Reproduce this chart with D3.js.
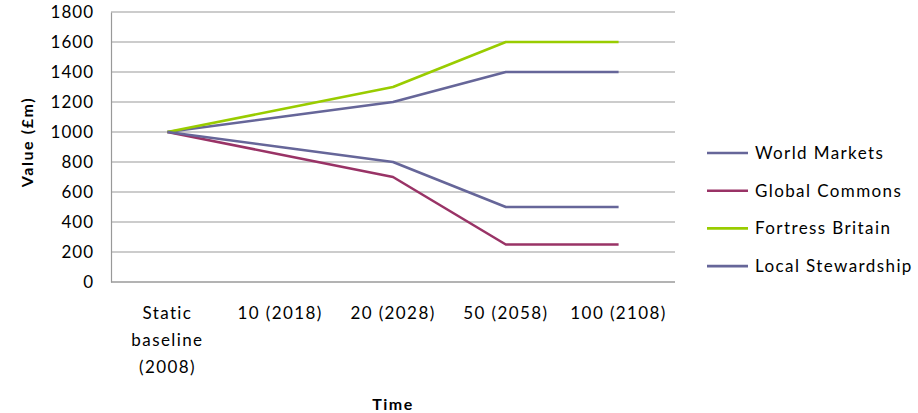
<!DOCTYPE html>
<html>
<head>
<meta charset="utf-8">
<script src="https://cdn.jsdelivr.net/npm/d3@7"></script>
<style>
  html, body { margin: 0; padding: 0; background: #fff; }
  svg text { font-family: Lato, "Open Sans", sans-serif; fill: #000; }
</style>
</head>
<body>
<svg id="chart" width="918" height="413"></svg>
<script>
// Time points along the category axis
const categories = [
  ["Static", "baseline", "(2008)"],
  ["10 (2018)"],
  ["20 (2028)"],
  ["50 (2058)"],
  ["100 (2108)"]
];
const categoryKeys = ["base", "y2018", "y2028", "y2058", "y2108"];

// Scenario values, £m
const seriesNames = ["World Markets", "Global Commons", "Fortress Britain", "Local Stewardship"];
const worldMarkets     = [1000, 1100, 1200, 1400, 1400];
const globalCommons    = [1000, 850, 700, 250, 250];
const fortressBritain  = [1000, 1150, 1300, 1600, 1600];
const localStewardship = [1000, 900, 800, 500, 500];
const seriesColors = ["#666699", "#993366", "#99CC00", "#666699"];

const yTicks = [0, 200, 400, 600, 800, 1000, 1200, 1400, 1600, 1800];

const seriesValues = [worldMarkets, globalCommons, fortressBritain, localStewardship];

const svg = d3.select("#chart");
const plot = { left: 111, right: 675, top: 12, bottom: 282 };
const labelSize = 17, labelSpacing = 1.4;

const x = d3.scalePoint()
  .domain(categoryKeys)
  .range([plot.left, plot.right])
  .padding(0.5);

const y = d3.scaleLinear()
  .domain([0, 1800])
  .range([plot.bottom, plot.top]);

// Horizontal gridlines
svg.append("g")
  .selectAll("line")
  .data(yTicks)
  .join("line")
  .attr("x1", plot.left)
  .attr("x2", plot.right)
  .attr("y1", d => y(d))
  .attr("y2", d => y(d))
  .attr("stroke", "#999")
  .attr("stroke-width", 1.2);

// Value axis
const yAxis = svg.append("g")
  .attr("transform", `translate(${plot.left},0)`)
  .call(d3.axisLeft(y).tickValues(yTicks).tickFormat(d3.format("d")).tickSize(0).tickPadding(17));
yAxis.select(".domain").attr("stroke", "#999").attr("stroke-width", 1.2);
yAxis.selectAll("text")
  .attr("font-size", labelSize)
  .attr("letter-spacing", 1)
  .style("font-family", "Lato, sans-serif")
  .attr("fill", "#000");

// Category axis line
svg.append("line")
  .attr("x1", plot.left).attr("x2", plot.right)
  .attr("y1", plot.bottom).attr("y2", plot.bottom)
  .attr("stroke", "#999").attr("stroke-width", 1.2);

// Category labels (multi-line)
const catG = svg.append("g");
categories.forEach((lines, i) => {
  const t = catG.append("text")
    .attr("x", x(categoryKeys[i]))
    .attr("y", 319)
    .attr("text-anchor", "middle")
    .attr("font-size", labelSize)
    .attr("letter-spacing", labelSpacing);
  lines.forEach((ln, j) => {
    t.append("tspan")
      .attr("x", x(categoryKeys[i]))
      .attr("dy", j === 0 ? 0 : 27)
      .text(ln);
  });
});

// Series lines
const line = d3.line()
  .x((d, i) => x(categoryKeys[i]))
  .y(d => y(d));

svg.append("g")
  .selectAll("path")
  .data(seriesValues)
  .join("path")
  .attr("d", d => line(d))
  .attr("fill", "none")
  .attr("stroke", (d, i) => seriesColors[i])
  .attr("stroke-width", 2.6)
  .attr("stroke-linejoin", "round");

// Axis titles
svg.append("text")
  .attr("transform", "translate(33,142) rotate(-90)")
  .attr("text-anchor", "middle")
  .attr("font-size", 16)
  .attr("letter-spacing", 1.6)
  .attr("font-weight", "bold")
  .text("Value (£m)");

svg.append("text")
  .attr("x", (plot.left + plot.right) / 2)
  .attr("y", 410)
  .attr("text-anchor", "middle")
  .attr("font-size", 16)
  .attr("letter-spacing", 1.5)
  .attr("font-weight", "bold")
  .text("Time");

// Legend
const legend = svg.append("g")
  .selectAll("g")
  .data(seriesNames)
  .join("g")
  .attr("transform", (d, i) => `translate(707,${153 + i * 37.7})`);
legend.append("line")
  .attr("x1", 0).attr("x2", 41)
  .attr("stroke", (d, i) => seriesColors[i])
  .attr("stroke-width", 2.6);
legend.append("text")
  .attr("x", 48)
  .attr("dy", "0.35em")
  .attr("font-size", labelSize)
  .attr("letter-spacing", labelSpacing)
  .text(d => d);
</script>
</body>
</html>
